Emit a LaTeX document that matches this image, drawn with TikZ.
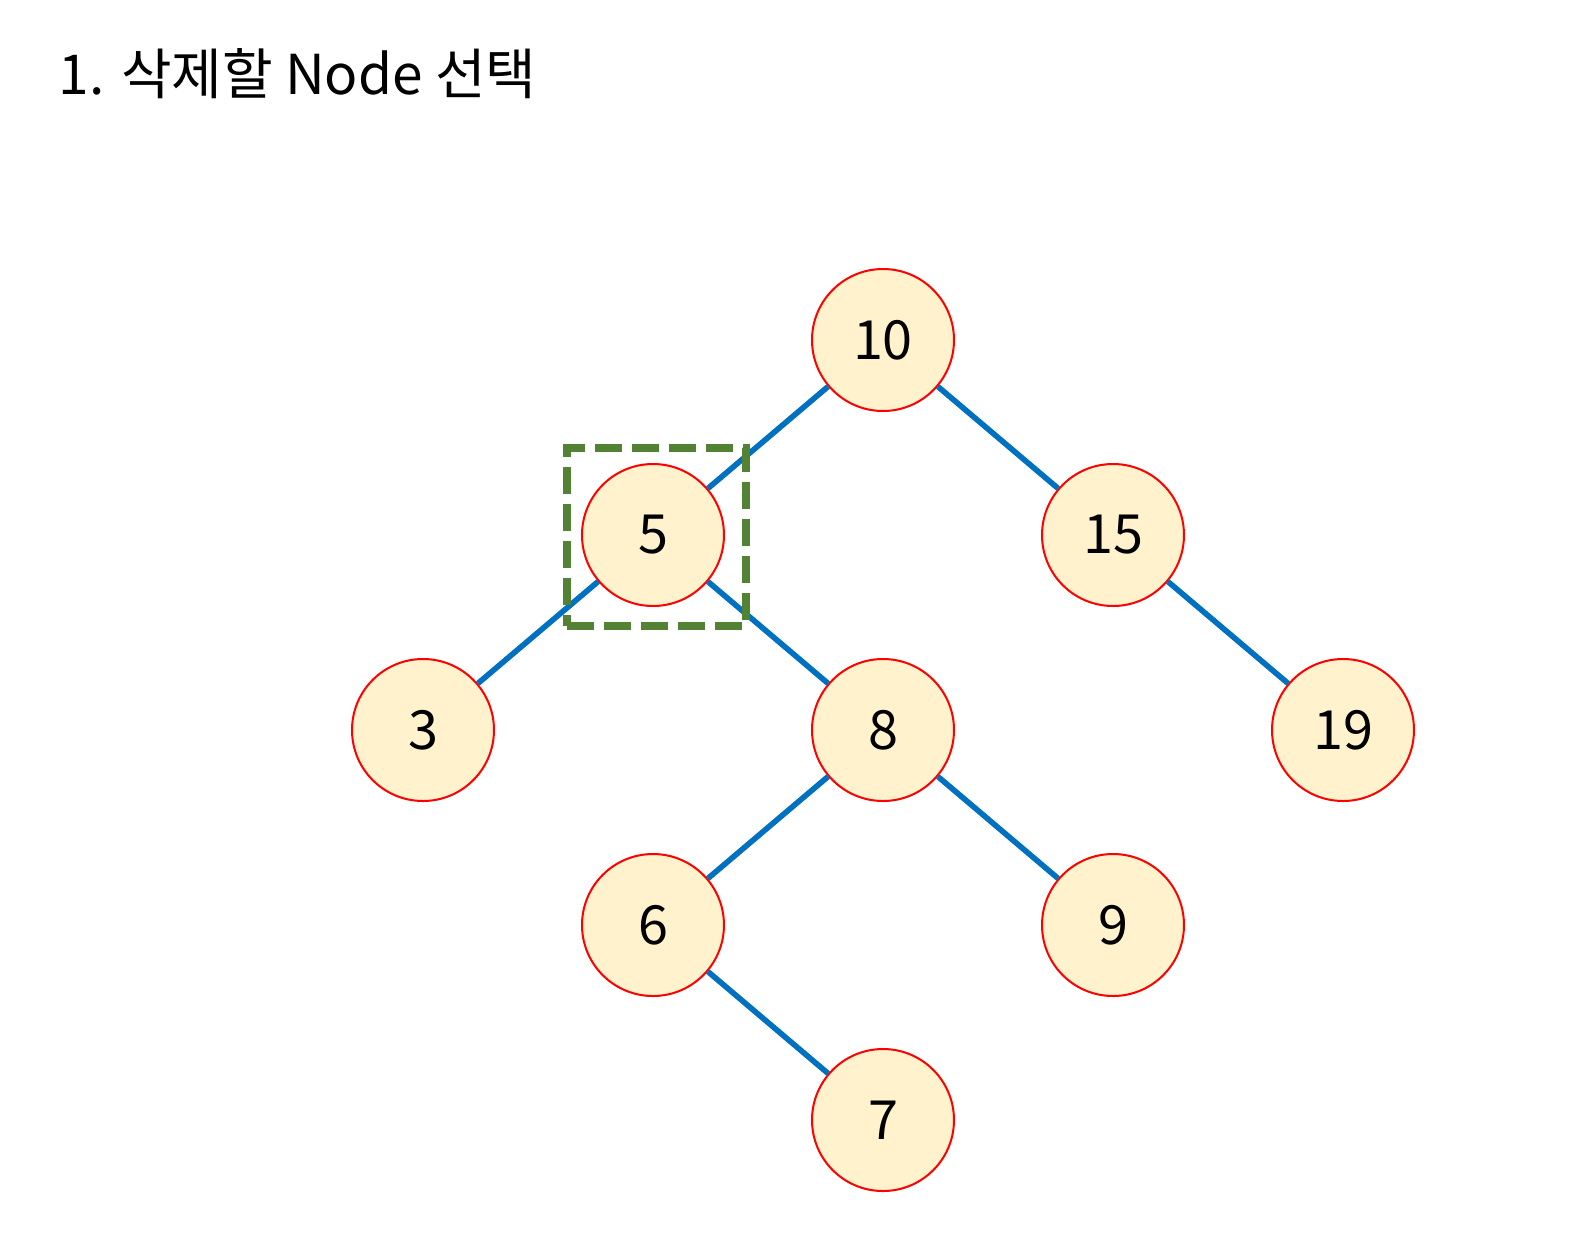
\documentclass[tikz,border=0pt]{standalone}
\usepackage{fontspec}
\setmainfont{Noto Sans CJK KR}
\definecolor{keyfill}{HTML}{FFF2CC}
\definecolor{linkblue}{HTML}{0070C0}
\definecolor{pickgreen}{HTML}{548235}
\begin{document}
\begin{tikzpicture}[x=115pt,y=-97.5pt]

      \useasboundingbox (-3.8391,-1.7436) rectangle (3.0130,4.5897);

      \node[anchor=base west,inner sep=0pt,font=\fontsize{27.5}{33}\selectfont] (title) at (-3.585,-1.2615) {1. 삭제할 Node 선택};

      \begin{scope}[every node/.style={circle,draw=red,line width=1pt,fill=keyfill,minimum size=71pt,inner sep=0pt,font=\fontsize{27}{32}\selectfont}]
        \node (10) at (0,0)  {10};
        \node (5)  at (-1,1) {5};
        \node (15) at (1,1)  {15};
        \node (3)  at (-2,2) {3};
        \node (8)  at (0,2)  {8};
        \node (19) at (2,2)  {19};
        \node (6)  at (-1,3) {6};
        \node (9)  at (1,3)  {9};
        \node (7)  at (0,4)  {7};
      \end{scope}

      \begin{scope}[every edge/.style={draw=linkblue,line width=2.8pt}]
        \path (10) edge (5);
        \path (10) edge (15);
        \path (5)  edge (3);
        \path (5)  edge (8);
        \path (15) edge (19);
        \path (8)  edge (6);
        \path (8)  edge (9);
        \path (6)  edge (7);
      \end{scope}

      % node picked for removal
      \node[draw=pickgreen,line width=4pt,dash pattern=on 13.5pt off 5pt,minimum width=89.5pt,minimum height=89pt,inner sep=0pt] (pick) at (-0.985,1.01) {};

    \end{tikzpicture}
\end{document}
